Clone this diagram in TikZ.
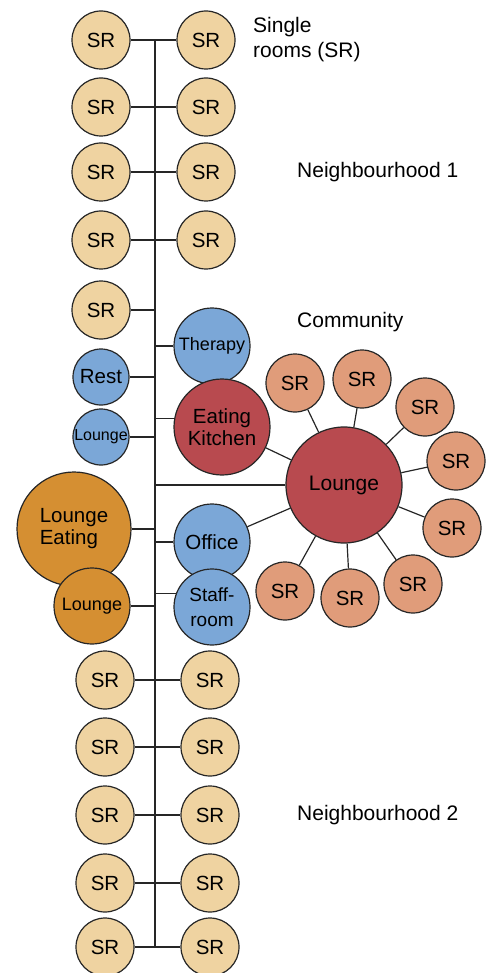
\documentclass[tikz,border=0pt]{standalone}
\usepackage{fontspec}
\setmainfont{Liberation Sans}
\usetikzlibrary{backgrounds}
\definecolor{srbeige}{HTML}{EFD3A1}
\definecolor{roomblue}{HTML}{7BA7D7}
\definecolor{roomred}{HTML}{B84A4F}
\definecolor{roomorange}{HTML}{D58F32}
\definecolor{roomsalmon}{HTML}{E09C7A}
\tikzset{room/.style={circle, draw=black!85, line width=1.2pt, inner sep=0pt,
        align=center, font=\fontsize{20.5}{22}\selectfont},
    sr/.style={room, fill=srbeige, minimum size=58pt},
    csr/.style={room, fill=roomsalmon, minimum size=58pt},
    blueroom/.style={room, fill=roomblue},
    link/.style={line width=1.2pt, draw=black!85},
    label/.style={anchor=west, align=left, inner sep=0pt, font=\fontsize{21}{25}\selectfont},
    }
\begin{document}
\begin{tikzpicture}[x=1pt, y=-1pt]
\useasboundingbox (0,0) rectangle (490,973);
\coordinate (top) at (155,40);
\coordinate (bot) at (155,946);
% neighbourhood 1
\foreach \y [count=\i] in {40,107,172,240} {
    \node[sr] (l\i) at (101,\y) {SR};
    \node[sr] (r\i) at (206,\y) {SR};
}
\node[sr] (l5) at (101,310) {SR};
% community
\node[blueroom, minimum size=76pt, font=\fontsize{18}{20}\selectfont] (ther) at (212,346) {Therapy};
\node[blueroom, minimum size=56pt] (rest) at (101,377) {Rest};
\node[blueroom, minimum size=56pt, font=\fontsize{16}{18}\selectfont] (lng) at (101,437) {Lounge};
\node[room, fill=roomred, minimum size=96pt] (kit) at (222,427) {Eating\\Kitchen};
\node[room, fill=roomred, minimum size=116pt, font=\fontsize{21}{23}\selectfont] (lounge) at (344,485) {Lounge};
\node[room, fill=roomorange, minimum size=114pt, align=left] (le) at (74,529) {Lounge\\Eating};
\node[room, fill=roomorange, minimum size=76pt, font=\fontsize{18}{20}\selectfont] (lo) at (92,606) {Lounge};
\node[blueroom, minimum size=76pt] (off) at (212,542) {Office};
\node[blueroom, minimum size=76pt, font=\fontsize{19}{25}\selectfont] (staff) at (212,607) {Staff-\\room};
\foreach \x/\y [count=\i] in {295/383,362/379,425/407,456/461,452/528,413/584,350/598,285/591}
    \node[csr] (c\i) at (\x,\y) {SR};
% neighbourhood 2
\foreach \y [count=\i from 6] in {680,747,815,883,947} {
    \node[sr] (l\i) at (105,\y) {SR};
    \node[sr] (r\i) at (210,\y) {SR};
}
% labels
\node[label] (single) at (253,40) {Single\\rooms (SR)};
\node[label] (nb1) at (297,172) {Neighbourhood 1};
\node[label] (comm) at (297,322) {Community};
\node[label] (nb2) at (297,815) {Neighbourhood 2};
% connectors
\begin{scope}[on background layer]
\draw[link] (top) -- (bot);
\foreach \i in {1,...,4,6,7,8,9,10}
    \draw[link] (l\i) -- (r\i);
\draw[link] (l5) -- (l5 -| top);
\draw[link] (ther) -- (ther -| top);
\draw[link] (rest) -- (rest -| top);
\draw[link] (lng) -- (lng -| top);
\draw[link] (kit.170) -- (kit.170 -| top);
\draw[link] (lounge) -- (lounge -| top);
\draw[link] (le) -- (le -| top);
\draw[link] (lo) -- (lo -| top);
\draw[link] (off) -- (off -| top);
\draw[link] (staff.160) -- (staff.160 -| top);
\draw[link] (kit) -- (lounge);
\draw[link] (off) -- (lounge);
\foreach \i in {1,...,8}
    \draw[link] (c\i) -- (lounge);
\end{scope}
\end{tikzpicture}
\end{document}
